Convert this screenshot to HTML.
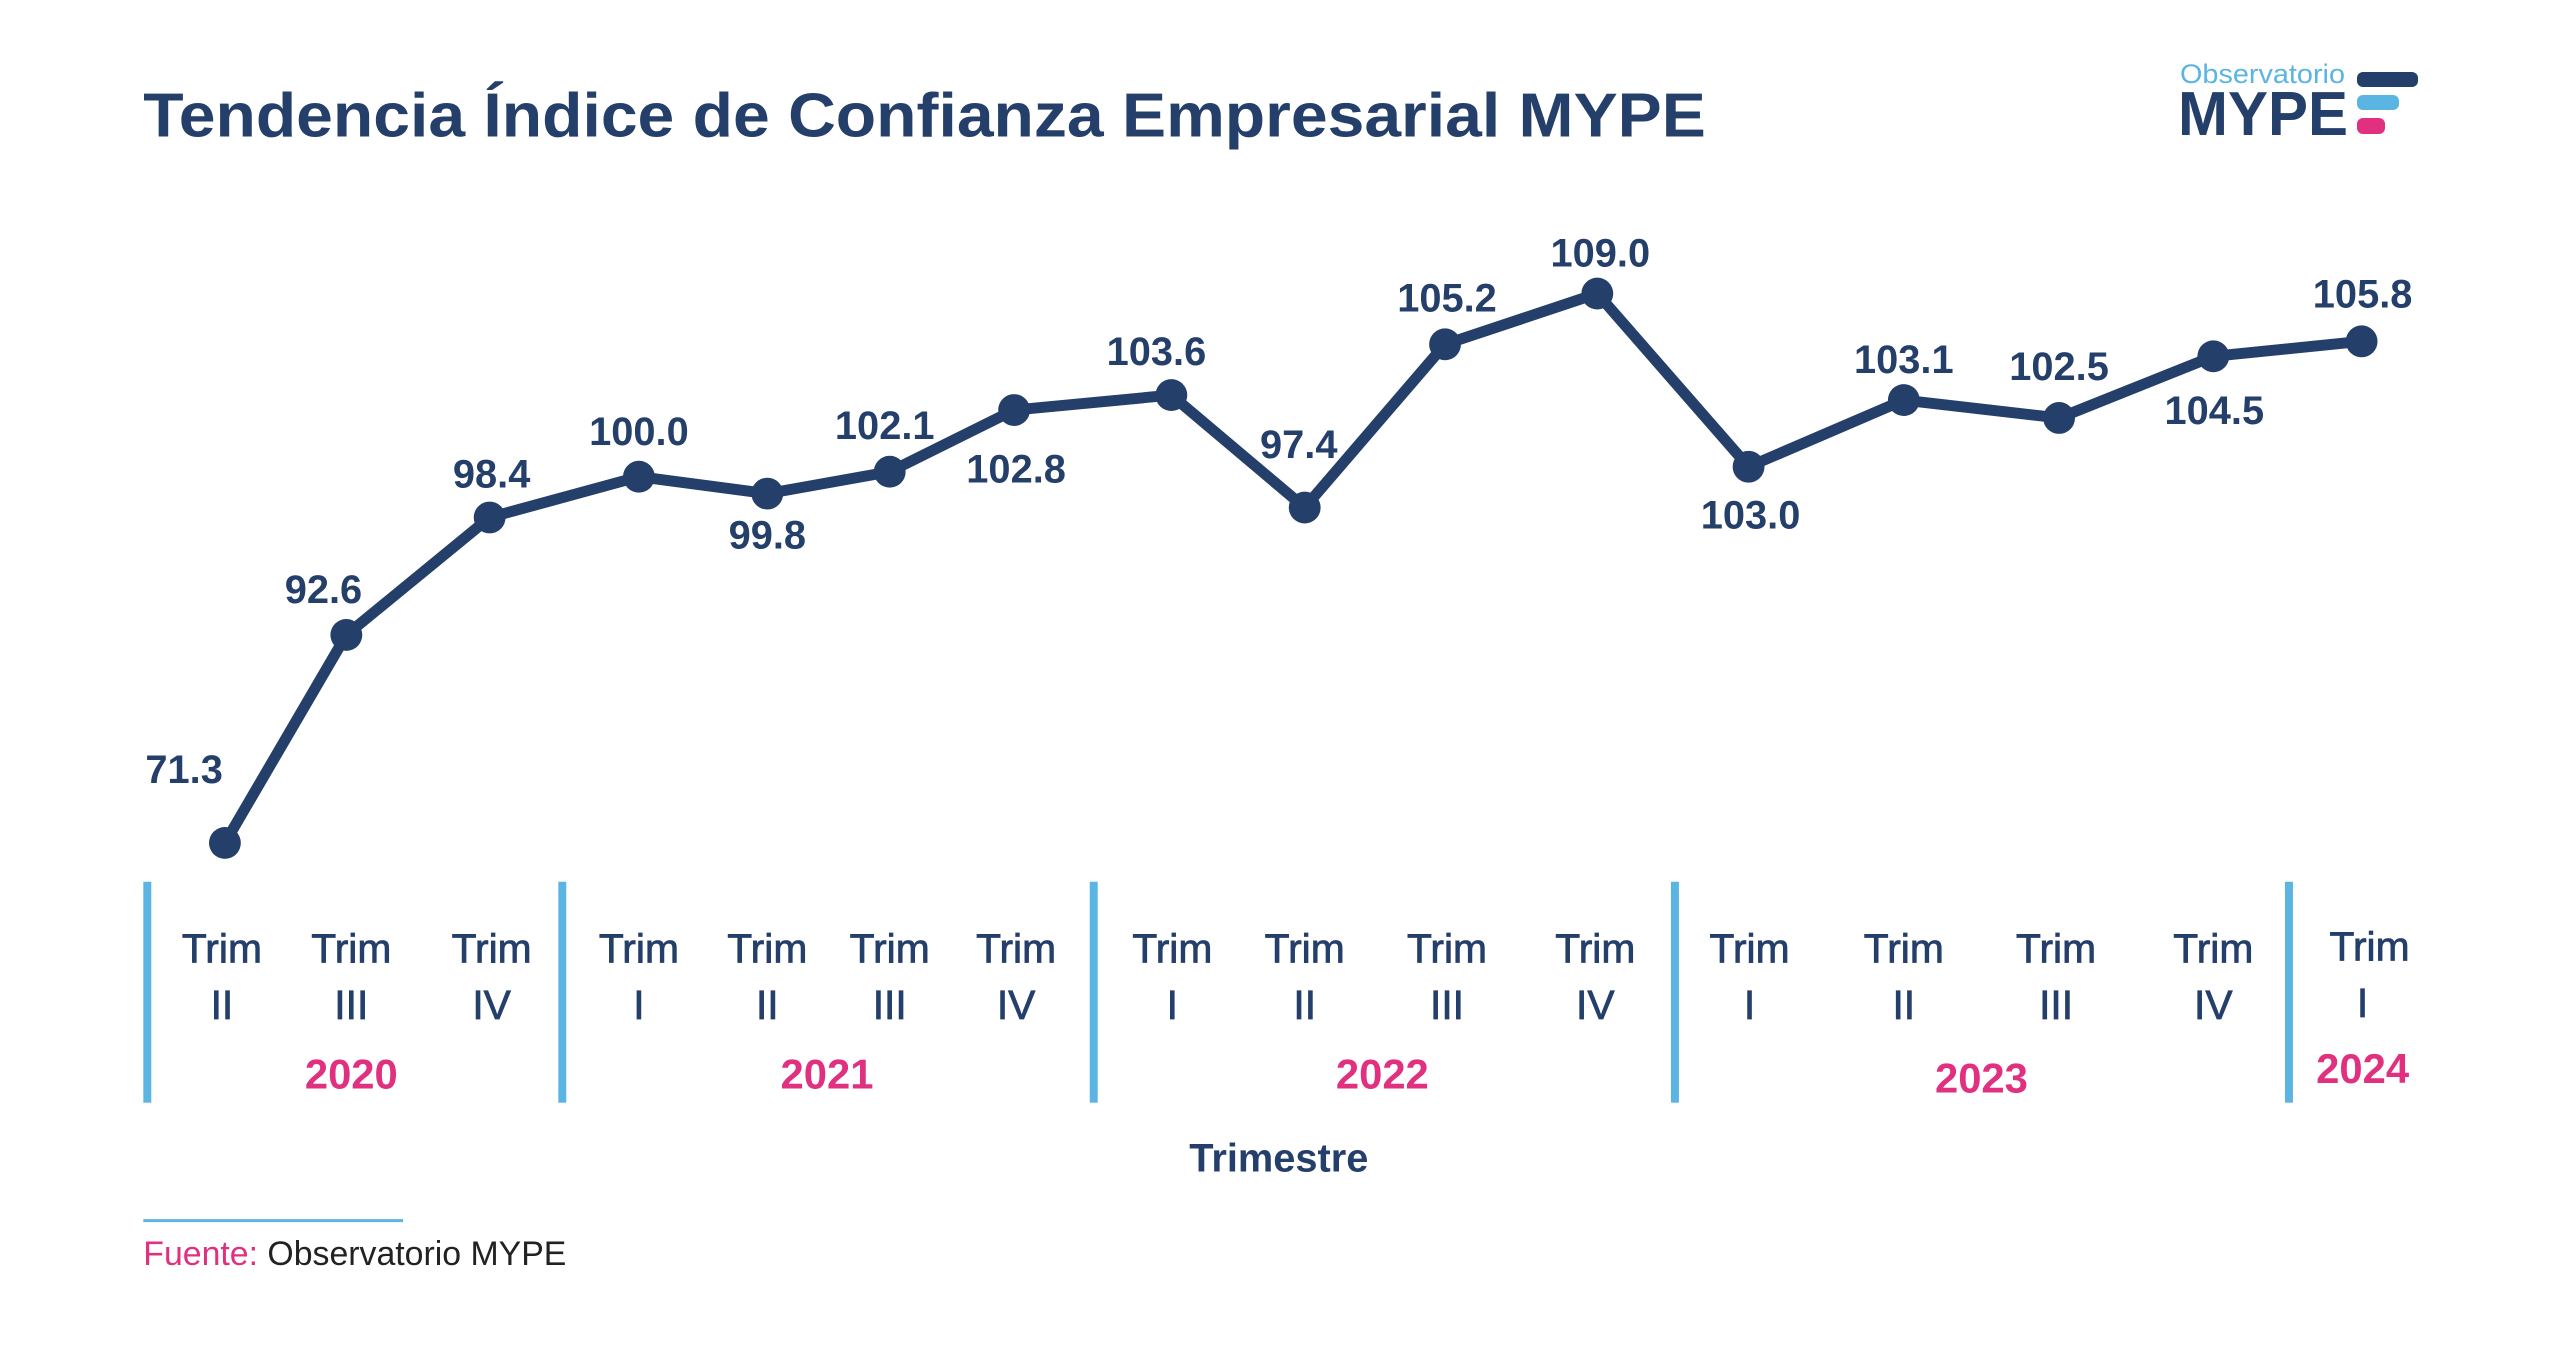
<!DOCTYPE html>
<html><head><meta charset="utf-8"><style>
body{margin:0;background:#fff}
svg{display:block}
</style></head><body>
<svg width="2560" height="1366" viewBox="0 0 2560 1366" xmlns="http://www.w3.org/2000/svg" font-family="Liberation Sans, sans-serif">
<!-- logo -->
<text x="2180" y="83" font-size="27" fill="#5bb5e3" textLength="165" lengthAdjust="spacingAndGlyphs">Observatorio</text>
<text x="2178" y="135" font-size="62" font-weight="bold" fill="#253f6b" textLength="170" lengthAdjust="spacingAndGlyphs">MYPE</text>
<rect x="2357" y="72" width="61" height="15" rx="6" fill="#253f6b"/>
<rect x="2357" y="95" width="42" height="15" rx="6" fill="#5bb5e3"/>
<rect x="2357" y="118" width="28" height="16" rx="6" fill="#e0307f"/>
<g transform="scale(0.9952)">
<text x="144" y="137" font-size="62" font-weight="bold" fill="#253f6b" textLength="1570" lengthAdjust="spacingAndGlyphs">Tendencia Índice de Confianza Empresarial MYPE</text>
<!-- line -->
<polyline fill="none" stroke="#253f6b" stroke-width="11" stroke-linejoin="round" points="226,847 348,638 492,520 642,479 771,496 894,474 1019,412 1177,397 1311,510 1452,346 1605,295 1757,469 1913,402 2069,420 2224,358 2373,343"/>
<g fill="#253f6b">
<circle cx="226" cy="847" r="16"/><circle cx="348" cy="638" r="16"/><circle cx="492" cy="520" r="16"/><circle cx="642" cy="479" r="16"/><circle cx="771" cy="496" r="16"/><circle cx="894" cy="474" r="16"/><circle cx="1019" cy="412" r="16"/><circle cx="1177" cy="397" r="16"/><circle cx="1311" cy="510" r="16"/><circle cx="1452" cy="346" r="16"/><circle cx="1605" cy="295" r="16"/><circle cx="1757" cy="469" r="16"/><circle cx="1913" cy="402" r="16"/><circle cx="2069" cy="420" r="16"/><circle cx="2224" cy="358" r="16"/><circle cx="2373" cy="343" r="16"/>
</g>
<g font-size="40" font-weight="bold" fill="#253f6b" text-anchor="middle">
<text x="185" y="787">71.3</text><text x="325" y="606">92.6</text><text x="494" y="490">98.4</text><text x="642" y="447">100.0</text><text x="771" y="551">99.8</text><text x="889" y="441">102.1</text><text x="1021" y="485">102.8</text><text x="1162" y="367">103.6</text><text x="1305" y="460">97.4</text><text x="1454" y="313">105.2</text><text x="1608" y="268">109.0</text><text x="1759" y="531">103.0</text><text x="1913" y="375">103.1</text><text x="2069" y="382">102.5</text><text x="2225" y="426">104.5</text><text x="2374" y="309">105.8</text>
</g>
<g fill="#5bb5e3">
<rect x="144" y="886" width="8" height="222"/><rect x="561" y="886" width="8" height="222"/><rect x="1095" y="886" width="8" height="222"/><rect x="1679" y="886" width="8" height="222"/><rect x="2296" y="886" width="8" height="222"/>
</g>
<g font-size="41" fill="#253f6b" text-anchor="middle" stroke="#253f6b" stroke-width="0.8">
<text x="223" y="967">Trim</text><text x="353" y="967">Trim</text><text x="494" y="967">Trim</text><text x="642" y="967">Trim</text><text x="771" y="967">Trim</text><text x="894" y="967">Trim</text><text x="1021" y="967">Trim</text><text x="1178" y="967">Trim</text><text x="1311" y="967">Trim</text><text x="1454" y="967">Trim</text><text x="1603" y="967">Trim</text><text x="1758" y="967">Trim</text><text x="1913" y="967">Trim</text><text x="2066" y="967">Trim</text><text x="2224" y="967">Trim</text><text x="2381" y="965">Trim</text>
<text x="223" y="1024">II</text><text x="353" y="1024">III</text><text x="494" y="1024">IV</text><text x="642" y="1024">I</text><text x="771" y="1024">II</text><text x="894" y="1024">III</text><text x="1021" y="1024">IV</text><text x="1178" y="1024">I</text><text x="1311" y="1024">II</text><text x="1454" y="1024">III</text><text x="1603" y="1024">IV</text><text x="1758" y="1024">I</text><text x="1913" y="1024">II</text><text x="2066" y="1024">III</text><text x="2224" y="1024">IV</text><text x="2374" y="1022">I</text>
</g>
<g font-size="42" font-weight="bold" fill="#e0307f" text-anchor="middle">
<text x="353" y="1094">2020</text><text x="831" y="1094">2021</text><text x="1389" y="1094">2022</text><text x="1991" y="1098">2023</text><text x="2374" y="1088">2024</text>
</g>
<text x="1285" y="1177" font-size="40" font-weight="bold" fill="#253f6b" text-anchor="middle">Trimestre</text>
<rect x="144" y="1225" width="261" height="3" fill="#5bb5e3"/>
<text x="144" y="1271" font-size="34" fill="#e0307f">Fuente: <tspan fill="#222">Observatorio MYPE</tspan></text>
</g>
</svg>
</body></html>
